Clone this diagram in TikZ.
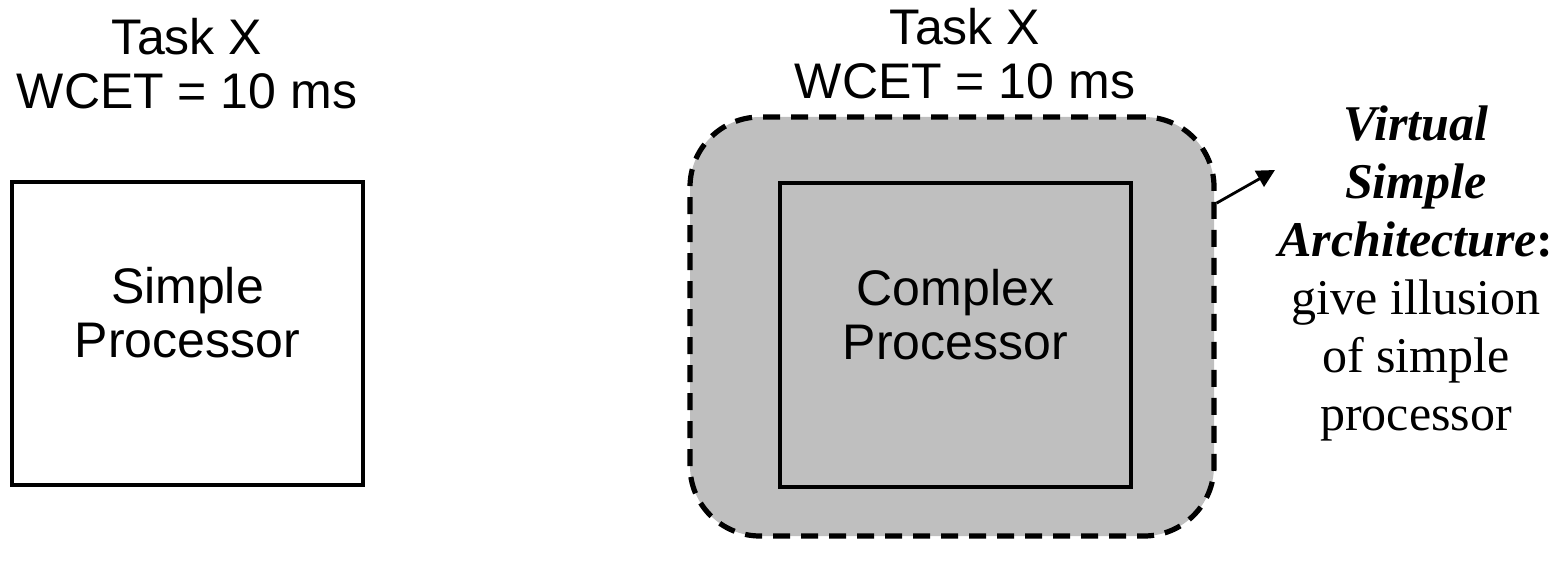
\documentclass[tikz,border=0pt]{standalone}
\usepackage{fontspec}
\setmainfont{Liberation Serif}
\setsansfont{Liberation Sans}
\usetikzlibrary{arrows.meta}

\tikzstyle{proc} = [rectangle, draw=black, line width=2pt, minimum width=175.5pt, minimum height=151.5pt, align=center, text depth=21pt, font=\sffamily\fontsize{25}{27}\selectfont]
\tikzstyle{vsa} = [rectangle, rounded corners=35pt, draw=black, fill=black!25, line width=2.6pt, dash pattern=on 8.5pt off 5.5pt, minimum width=262pt, minimum height=209.5pt]
\tikzstyle{task} = [align=center, font=\sffamily\fontsize{25}{27}\selectfont]
\tikzstyle{note} = [align=center, font=\rmfamily\fontsize{25}{29}\selectfont]
\tikzstyle{arrow} = [line width=1.4pt, -{Triangle[length=9pt, width=9pt]}]

\begin{document}
\begin{tikzpicture}[x=0.5pt, y=-0.5pt]
    \useasboundingbox (0,0) rectangle (1568,566);

    % left: plain processor
    \node (task1) [task] at (187,64) {Task X\\WCET = 10 ms};
    \node (simple) [proc] at (187.5,333.5) {Simple\\Processor};

    % right: processor wrapped by the virtual architecture
    \node (vsa) [vsa] at (952,326.5) {};
    \node (task2) [task] at (965,54) {Task X\\WCET = 10 ms};
    \node (complex) [proc] at (955.5,335) {Complex\\Processor};

    \node (note) [note] at (1416,273) {\textbf{\textit{Virtual}}\\\textbf{\textit{Simple}}\\\textbf{\textit{Architecture}:}\\give illusion\\of simple\\processor};
    \coordinate (tip) at (1275,170);

    \draw [arrow] (vsa.25) -- (tip);

\end{tikzpicture}
\end{document}
